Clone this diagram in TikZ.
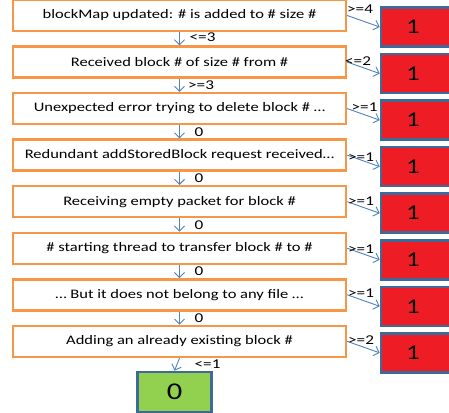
\documentclass[tikz,border=0pt]{standalone}
\usepackage{fontspec}
\setmainfont{Carlito}[FakeStretch=1.27]
\usetikzlibrary{arrows.meta}
\definecolor{obord}{HTML}{F79646}
\definecolor{bbord}{HTML}{3E6A9A}
\definecolor{rfill}{HTML}{EE1C25}
\definecolor{gfill}{HTML}{92D050}
\definecolor{ablue}{HTML}{4F81BD}
\tikzset{
  obox/.style={draw=obord, line width=2.4pt, fill=white, minimum width=333pt, minimum height=31pt, inner sep=0pt, font=\fontsize{13}{15}\selectfont},
  rbox/.style={draw=bbord, line width=2.6pt, fill=rfill, minimum width=72pt, minimum height=39pt, inner sep=0pt, font=\fontsize{21}{24}\selectfont},
  gbox/.style={draw=bbord, line width=2.6pt, fill=gfill, minimum width=74pt, minimum height=40pt, inner sep=0pt, font=\fontsize{24}{26}\selectfont},
  arr/.style={draw=ablue, line width=0.9pt, -{Straight Barb[length=5pt,width=10pt]}},
  lbl/.style={inner sep=0pt, font=\fontsize{13.5}{15}\selectfont},
}
\begin{document}
\begin{tikzpicture}[x=1pt,y=-1pt]
\useasboundingbox (0,0) rectangle (449,412);
% orange boxes
\node[obox] (o1) at (179.5,15.5) {blockMap updated: \# is added to \# size \#};
\node[obox] (o2) at (179.5,62.05) {Received block \# of size \# from \#};
\node[obox] (o3) at (179.5,108.6) {Unexpected error trying to delete block \# …};
\node[obox] (o4) at (179.5,155.15) {Redundant addStoredBlock request received…};
\node[obox] (o5) at (179.5,201.7) {Receiving empty packet for block \#};
\node[obox] (o6) at (179.5,248.25) {\# starting thread to transfer block \# to \#};
\node[obox] (o7) at (179.5,294.8) {… But it does not belong to any file …};
\node[obox] (o8) at (179.5,341.35) {Adding an already existing block \#};
% red boxes
\node[rbox] (r1) at (417,27) {\kern-8pt 1};
\node[rbox] (r2) at (417,73.55) {\kern-8pt 1};
\node[rbox] (r3) at (417,120.1) {\kern-8pt 1};
\node[rbox] (r4) at (417,166.65) {\kern-8pt 1};
\node[rbox] (r5) at (417,213.2) {\kern-8pt 1};
\node[rbox] (r6) at (417,259.75) {\kern-8pt 1};
\node[rbox] (r7) at (417,306.3) {\kern-8pt 1};
\node[rbox] (r8) at (417,352.85) {\kern-8pt 1};
% green box
\node[gbox] (g) at (174.5,392) {0};
% vertical arrows
\draw[arr] (o1.south) -- (o2.north);
\draw[arr] (o2.south) -- (o3.north);
\draw[arr] (o3.south) -- (o4.north);
\draw[arr] (o4.south) -- (o5.north);
\draw[arr] (o5.south) -- (o6.north);
\draw[arr] (o6.south) -- (o7.north);
\draw[arr] (o7.south) -- (o8.north);
\draw[arr] (o8.south) -- (g.north);
% side arrows
\draw[arr] (o1.east) -- (r1.west);
\draw[arr] (o2.east) -- (r2.west);
\draw[arr] (o3.east) -- (r3.west);
\draw[arr] (o4.east) -- (r4.west);
\draw[arr] (o5.east) -- (r5.west);
\draw[arr] (o6.east) -- (r6.west);
\draw[arr] (o7.east) -- (r7.west);
\draw[arr] (o8.east) -- (r8.west);
% vertical labels
\node[lbl, anchor=west] (v1) at (189.5,37.5) {<=3};
\node[lbl, anchor=west] (v2) at (188,85) {>=3};
\node[lbl, anchor=west] (v3) at (194.5,132.5) {0};
\node[lbl, anchor=west] (v4) at (194.5,178.5) {0};
\node[lbl, anchor=west] (v5) at (194.5,225) {0};
\node[lbl, anchor=west] (v6) at (194.5,271.5) {0};
\node[lbl, anchor=west] (v7) at (194.5,318) {0};
\node[lbl, anchor=west] (v8) at (194.5,364) {<=1};
% side labels
\node[lbl, anchor=west] (s1) at (347,9.5) {>=4};
\node[lbl, anchor=west] (s2) at (345,61) {<=2};
\node[lbl, anchor=west] (s3) at (351.5,107) {>=1};
\node[lbl, anchor=west] (s4) at (348,157) {>=1};
\node[lbl, anchor=west] (s5) at (348,201) {>=1};
\node[lbl, anchor=west] (s6) at (348,249) {>=1};
\node[lbl, anchor=west] (s7) at (348,293.5) {>=1};
\node[lbl, anchor=west] (s8) at (348,340.5) {>=2};
\end{tikzpicture}
\end{document}
